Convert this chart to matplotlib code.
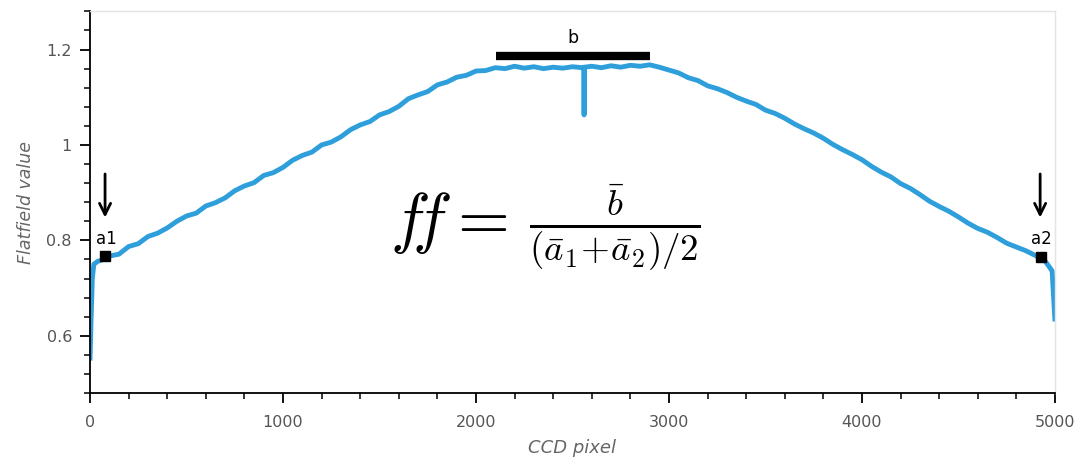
import matplotlib
matplotlib.use("Agg")
import matplotlib.pyplot as plt
from matplotlib.ticker import MultipleLocator, FormatStrFormatter

# ---- data ----
pixel = [0, 6, 12, 20, 40, 70, 100, 150, 200, 250, 300, 350, 400, 450, 500, 550,
         600, 650, 700, 750, 800, 850, 900, 950, 1000, 1050, 1100, 1150, 1200,
         1250, 1300, 1350, 1400, 1450, 1500, 1550, 1600, 1650, 1700, 1750, 1800,
         1850, 1900, 1950, 2000, 2050, 2100, 2150, 2200, 2250, 2300, 2350, 2400,
         2450, 2500, 2550, 2558, 2560, 2562, 2600, 2650, 2700, 2750, 2800, 2850,
         2900, 2950, 3000, 3050, 3100, 3150, 3200, 3250, 3300, 3350, 3400, 3450,
         3500, 3550, 3600, 3650, 3700, 3750, 3800, 3850, 3900, 3950, 4000, 4050,
         4100, 4150, 4200, 4250, 4300, 4350, 4400, 4450, 4500, 4550, 4600, 4650,
         4700, 4750, 4800, 4850, 4900, 4950, 4985, 5000]
flat = [0.548, 0.640, 0.720, 0.750, 0.756, 0.760, 0.767, 0.771, 0.787, 0.793,
        0.808, 0.815, 0.826, 0.840, 0.851, 0.857, 0.872, 0.879, 0.889, 0.904,
        0.914, 0.921, 0.936, 0.942, 0.953, 0.968, 0.978, 0.985, 1.000, 1.006,
        1.017, 1.032, 1.042, 1.049, 1.063, 1.070, 1.081, 1.097, 1.105, 1.112,
        1.126, 1.132, 1.142, 1.146, 1.155, 1.156, 1.162, 1.160, 1.165, 1.161,
        1.164, 1.160, 1.163, 1.161, 1.164, 1.162, 1.163, 1.063, 1.163, 1.165,
        1.162, 1.166, 1.163, 1.167, 1.165, 1.168, 1.163, 1.157, 1.151, 1.141,
        1.135, 1.124, 1.118, 1.110, 1.100, 1.092, 1.085, 1.073, 1.066, 1.056,
        1.044, 1.034, 1.025, 1.014, 1.001, 0.990, 0.980, 0.969, 0.955, 0.943,
        0.933, 0.919, 0.909, 0.896, 0.882, 0.871, 0.861, 0.849, 0.836, 0.825,
        0.817, 0.806, 0.794, 0.786, 0.778, 0.768, 0.756, 0.736, 0.630]

a_labels = ["a1", "a2"]
a_pixel = [80, 4925]
a_value = [0.768, 0.765]
b_range = [2102, 2902]
b_value = 1.186

plt.rcParams["font.family"] = ["DejaVu Sans"]
plt.rcParams["mathtext.fontset"] = "cm"

fig = plt.figure(figsize=(10.88, 4.58), dpi=100)
ax = fig.add_axes([90 / 1088, 65 / 458, 965 / 1088, 381.6 / 458])

ax.plot(pixel, flat, color="#2f9fdb", lw=3.5, solid_joinstyle="round",
        solid_capstyle="butt", zorder=2)

# region markers
ax.plot(a_pixel, a_value, ls="none", marker="s", ms=7, color="black", zorder=3)
ax.plot(b_range, [b_value, b_value], color="black", lw=6, solid_capstyle="butt", zorder=3)
ax.text(sum(b_range) / 2, 1.205, "b", ha="center", va="bottom", fontsize=12.5)

for lab, xp in zip(a_labels, a_pixel):
    ax.text(xp + 5, 0.783, lab, ha="center", va="bottom", fontsize=12)
    ax.annotate("", xy=(xp - 2, 0.842), xytext=(xp - 2, 0.945),
                arrowprops=dict(arrowstyle="->", lw=2, color="black", mutation_scale=20))

# formula
ax.text(1555, 0.8365, r"$f\!f=$", fontsize=48, ha="left", va="center")
ax.text(2718, 0.8245, r"$\frac{\bar{b}}{(\bar{a}_1\!+\!\bar{a}_2)/2}$", fontsize=38,
        ha="center", va="center")

ax.set_xlim(0, 5000)
ax.set_ylim(0.48, 1.28)
ax.xaxis.set_major_locator(MultipleLocator(1000))
ax.xaxis.set_minor_locator(MultipleLocator(200))
ax.yaxis.set_major_locator(MultipleLocator(0.2))
ax.yaxis.set_minor_locator(MultipleLocator(0.04))
ax.yaxis.set_major_formatter(FormatStrFormatter("%g"))

for s in ["top", "right"]:
    ax.spines[s].set_color("#e4e4e4")
    ax.spines[s].set_linewidth(1)
for s in ["left", "bottom"]:
    ax.spines[s].set_color("black")
    ax.spines[s].set_linewidth(1.3)

ax.tick_params(which="major", direction="out", length=7, width=1.3, color="black",
               labelsize=11.5, labelcolor="#555555")
ax.tick_params(axis="x", which="major", pad=9)
ax.tick_params(axis="y", which="major", pad=6)
ax.tick_params(which="minor", direction="out", length=4, width=1.1, color="black")
ax.tick_params(top=False, right=False, which="both")

ax.set_xlabel("CCD pixel", fontsize=13, style="italic", color="#666666", labelpad=6)
ax.set_ylabel("Flatfield value", fontsize=12.5, style="italic", color="#666666", labelpad=8)

fig.savefig("out.png", dpi=100)
